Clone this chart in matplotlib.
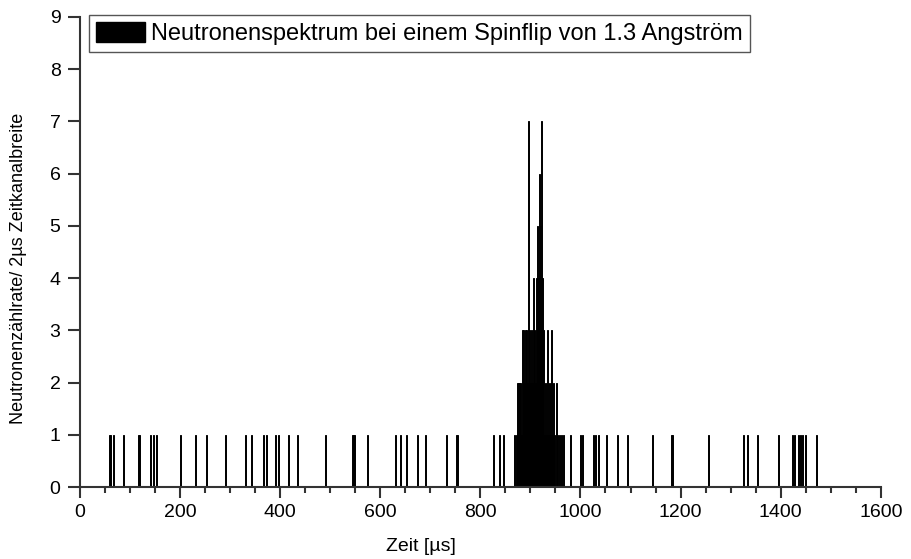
import matplotlib.pyplot as plt
from matplotlib.ticker import MultipleLocator
from matplotlib.patches import Patch

plt.rcParams['font.family'] = ['Liberation Sans', 'DejaVu Sans']

# Zeitkanäle (Mitte, in µs) mit je einem Ereignis
single_times = [58, 60, 66, 86, 116, 118, 140, 146, 152, 200, 230, 252, 290,
                330, 342, 366, 372, 390, 396, 416, 434, 490, 544, 546, 548,
                574, 630, 640, 652, 674, 690, 732, 752, 754, 826, 838, 846,
                868, 872, 882, 928, 932, 936, 940, 944, 948, 954, 958, 962,
                966, 980, 1000, 1004, 1026, 1030, 1036, 1052, 1074, 1094,
                1144, 1182, 1184, 1256, 1326, 1334, 1354, 1396, 1424, 1428,
                1436, 1440, 1444, 1450, 1472]

# Peakbereich mit höheren Zählraten
peak_times = [874, 876, 878, 880, 884, 886, 888, 890, 892, 894, 896, 898,
              900, 902, 904, 906, 908, 910, 912, 914, 916, 918, 920, 922,
              924, 926, 930, 934, 938, 942, 946, 952]
peak_counts = [2, 2, 2, 2, 3, 3, 2, 3, 3, 2, 7, 3,
               2, 3, 2, 4, 3, 2, 4, 5, 4, 6, 5, 7,
               4, 3, 2, 3, 2, 3, 2, 2]

legend_label = "Neutronenspektrum bei einem Spinflip von 1.3 Angström"

fig = plt.figure(figsize=(9.11, 5.59), dpi=100)
ax = fig.add_axes([0.0878, 0.1288, 0.879, 0.8408])

ax.bar(single_times, [1] * len(single_times), width=2, color='black',
       edgecolor='black', linewidth=0.7)
ax.bar(peak_times, peak_counts, width=2, color='black',
       edgecolor='black', linewidth=0.7)

ax.set_xlim(0, 1600)
ax.set_ylim(0, 9)
ax.xaxis.set_major_locator(MultipleLocator(200))
ax.xaxis.set_minor_locator(MultipleLocator(50))
ax.yaxis.set_major_locator(MultipleLocator(1))

for s in ['top', 'right']:
    ax.spines[s].set_visible(False)
for s in ['left', 'bottom']:
    ax.spines[s].set_color('#333333')
    ax.spines[s].set_linewidth(1.5)

ax.tick_params(axis='x', which='major', length=8, width=1.5, color='#333333',
               labelsize=14, pad=4)
ax.tick_params(axis='x', which='minor', length=4, width=1.5, color='#333333')
ax.tick_params(axis='y', which='major', length=9, width=1.5, color='#333333',
               labelsize=14, pad=5)

ax.set_xlabel("Zeit [µs]", fontsize=14)
ax.set_ylabel("Neutronenzählrate/ 2µs Zeitkanalbreite", fontsize=13)
ax.xaxis.set_label_coords(0.426, -0.108)
ax.yaxis.set_label_coords(-0.066, 0.466)

handle = Patch(facecolor='black', edgecolor='black')
leg = ax.legend([handle], [legend_label], loc='upper left', fontsize=17,
                fancybox=False, framealpha=1, edgecolor='#555555',
                handlelength=2.1, handleheight=0.9, handletextpad=0.25,
                borderpad=0.3, borderaxespad=0,
                bbox_to_anchor=(0.011, 1.004))
leg.get_frame().set_linewidth(1.0)

fig.savefig("out.png", dpi=100)
